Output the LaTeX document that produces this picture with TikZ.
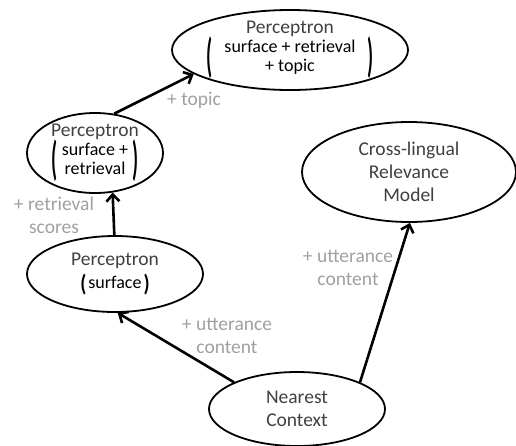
\documentclass[tikz,border=0pt]{standalone}
\usepackage{fontspec}
\usepackage{graphicx}
\setmainfont{Carlito}
\usetikzlibrary{shapes.geometric}
\usetikzlibrary{arrows.meta}

\definecolor{nodegray}{HTML}{404040}
\definecolor{gaingray}{HTML}{A0A0A0}
% thick stretched brackets round a block of text
\newcommand{\bracketpart}[2]{\vcenter{\hbox{\color{black}\scalebox{1}[#1]{\bfseries #2}}}}
\newcommand{\inbrackets}[3]{$\bracketpart{#1}{(}\vcenter{\hbox{\color{black}\fontsize{18}{21}\selectfont\begin{tabular}{@{\hspace{#2}}c@{\hspace{#2}}}#3\end{tabular}}}\bracketpart{#1}{)}$}

\begin{document}
\begin{tikzpicture}[x=1pt,y=-1pt,
  model/.style={ellipse,draw=black,line width=1.8pt,inner sep=-14pt,align=center,text=nodegray,font=\fontsize{19.5}{23}\selectfont},
  link/.style={line width=2.6pt,-{Straight Barb[length=7pt,width=13pt]}},
  gain/.style={align=center,text=gaingray,font=\fontsize{19.5}{23}\selectfont}]
\useasboundingbox (0,0) rectangle (516,445);
\renewcommand{\arraystretch}{0.9}

% models
\node[model,minimum width=236pt,minimum height=80pt] (full) at (290,50) {Perceptron\\[-1pt]\inbrackets{2.4}{12pt}{surface + retrieval\\+ topic}};
\node[model,minimum width=136pt,minimum height=80pt] (retr) at (95,153) {Perceptron\\[-1pt]\inbrackets{2.4}{4pt}{surface +\\retrieval}};
\node[model,minimum width=176pt,minimum height=76pt] (surf) at (115,274) {Perceptron\\[1pt]\inbrackets{1.2}{2pt}{surface}};
\node[model,minimum width=214pt,minimum height=100pt] (clrm) at (409,172) {Cross-lingual\\Relevance\\Model};
\node[model,minimum width=176pt,minimum height=74pt] (near) at (297,409) {Nearest\\Context};

% links
\draw[link] (near.157) -- (surf.-86);
\draw[link] (near.23) -- (clrm.-89);
\draw[link] (surf.91) -- (retr.-66);
\draw[link] (retr.64) -- (full.-166);

% gains
\node[gain] (g1) at (194,100) {+ topic};
\node[gain] (g2) at (54,215) {+ retrieval\\scores};
\node[gain] (g3) at (227,336) {+ utterance\\content};
\node[gain] (g4) at (348,268) {+ utterance\\content};

\end{tikzpicture}
\end{document}
